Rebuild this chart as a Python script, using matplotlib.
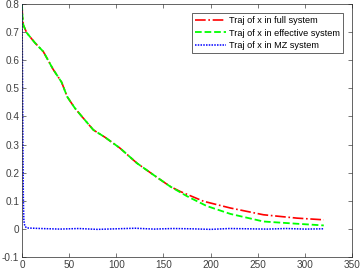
import matplotlib.pyplot as plt

plt.rcParams['font.family'] = ['Liberation Sans', 'DejaVu Sans']

# trajectories
t_full = [0, 0.5, 1.4, 5, 13.8, 22.6, 33, 42, 48, 56, 64, 75.7, 88, 104, 121.8,
          139.4, 157, 167.7, 192.5, 221, 256, 291.6, 320]
x_full = [0.8, 0.76, 0.726, 0.698, 0.662, 0.631, 0.568, 0.522, 0.47, 0.430, 0.398,
          0.352, 0.326, 0.287, 0.234, 0.192, 0.151, 0.133, 0.098, 0.074, 0.050, 0.038, 0.032]

t_eff = [0, 0.5, 1.4, 5, 13.8, 22.6, 33, 42, 48, 56, 64, 75.7, 88, 104, 121.8,
         139.4, 157, 175, 196, 221, 256, 291.6, 320]
x_eff = [0.8, 0.76, 0.726, 0.698, 0.662, 0.631, 0.568, 0.522, 0.47, 0.430, 0.398,
         0.352, 0.326, 0.287, 0.234, 0.192, 0.151, 0.116, 0.081, 0.053, 0.026, 0.018, 0.012]

t_mz = [0, 0.5, 1, 1.5, 2, 3, 5, 20, 40, 60, 80, 100, 120, 140, 160, 180, 200,
        220, 240, 260, 280, 300, 320]
x_mz = [0.8, 0.6, 0.3, 0.1, 0.03, 0.01, 0.003, 0.001, -0.001, 0.001, -0.002, 0.0,
        0.002, -0.001, 0.001, 0.0, -0.002, 0.001, 0.0, -0.001, 0.001, -0.001, 0.0]

fig = plt.figure(figsize=(3.6, 2.73), dpi=100)
ax = fig.add_axes([0.061, 0.059, 0.917, 0.926])

ax.plot(t_full, x_full, '-.', color='#ff0000', lw=1.2, label='Traj of x in full system')
ax.plot(t_eff, x_eff, '--', color='#00ff00', lw=1.3, label='Traj of x in effective system')
ax.plot(t_mz, x_mz, color='#0000ff', lw=1.1, dashes=(1, 0.8), label='Traj of x in MZ system')

ax.set_xlim(0, 350)
ax.set_ylim(-0.1, 0.8)
ax.set_xticks(range(0, 351, 50))
ax.set_yticks([-0.1, 0, 0.1, 0.2, 0.3, 0.4, 0.5, 0.6, 0.7, 0.8])
ax.set_yticklabels(['-0.1', '0', '0.1', '0.2', '0.3', '0.4', '0.5', '0.6', '0.7', '0.8'])
ax.tick_params(direction='in', top=True, right=True, length=3, width=0.5,
               labelsize=7.2, colors='#404040', pad=2)
for s in ax.spines.values():
    s.set_linewidth(0.5)
    s.set_color('#262626')

leg = ax.legend(loc='upper right', fontsize=6.6, handlelength=3.4, borderaxespad=1.0,
                fancybox=False, framealpha=1, edgecolor='#262626', borderpad=0.35,
                labelspacing=0.35, handletextpad=0.3)
leg.get_frame().set_linewidth(0.5)

plt.savefig('out.png', dpi=100)
